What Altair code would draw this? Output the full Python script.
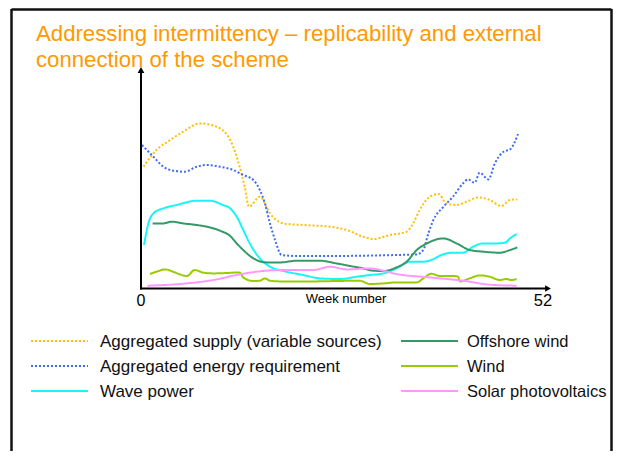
import altair as alt
import pandas as pd

FONT = "Liberation Sans"

title_lines = ["Addressing intermittency \u2013 replicability and external",
               "connection of the scheme"]
x_label = "Week number"
x_ticks = ["0", "52"]

series = ["Aggregated supply (variable sources)", "Aggregated energy requirement",
          "Wave power", "Offshore wind", "Wind", "Solar photovoltaics"]
colors = ["#FFC000", "#3F6CF2", "#19F5F5", "#339966", "#99CC00", "#FF99FF"]
dotted = [True, True, False, False, False, False]

supply_w = [0.2, 2.0, 3.9, 5.7, 8.0, 10.3, 12.2, 13.5, 14.2, 14.8, 16.3, 17.7, 19.5, 22.3, 26.0,
            28.3, 30.6, 32.0, 34.3, 36.6, 37.5, 38.4, 39.8, 41.0, 42.1, 43.5, 44.9, 46.5, 48.1,
            49.7, 50.9, 51.9]
supply_v = [122, 138.7, 148.7, 157, 165.3, 162, 148.7, 122, 102, 82, 92, 75.3, 65.3, 63.7, 62,
            58.7, 52, 49.7, 53.7, 57, 65.3, 78.7, 92, 94.7, 85.3, 83.7, 87, 91.3, 88.7,
            82.7, 88.7, 89.3]

demand_w = [0, 1.57, 2.95, 4.33, 5.94, 7.56, 8.94, 10.8, 12.6, 14.0, 15.4, 16.3, 17.0, 17.7, 18.4,
            19.3, 21.4, 26.0, 30.6, 35.2, 38.0, 38.9, 39.6, 40.3, 41.7, 43.0, 44.4, 45.1, 46.0,
            46.7, 47.9, 48.8, 50.0, 50.9, 52.0]
demand_v = [143.7, 132, 122, 118, 117, 122, 123.7, 122, 118.7, 113.7, 108.7, 98.7, 85.3, 65.3, 48.7,
            33.7, 32.7, 32.7, 33, 33.7, 34.3, 38.7, 55.3, 68.7, 82, 92, 105.3, 109.3, 106,
            116, 109.3, 125.3, 137, 139.3, 154.7]

wave_w = [0.28, 0.88, 1.57, 2.95, 4.79, 7.56, 9.4, 11.2, 12.2, 13.1, 14.0, 14.9, 16.3, 17.7, 20.0,
          22.3, 24.6, 27.4, 29.7, 31.5, 33.4, 35.2, 37.1, 38.9, 40.0, 41.4, 43.0, 44.4, 45.8,
          47.2, 49.0, 50.2, 50.9, 51.8]
wave_v = [43.7, 65.3, 75.3, 80.3, 83.7, 88, 88, 83.7, 80.3, 72, 58.7, 45.3, 30.3, 22, 17,
          13.7, 10.3, 9.7, 12, 13.7, 15.3, 20.3, 27, 27, 28.7, 33.7, 36, 36, 42,
          45.3, 45.3, 46, 50.3, 54.7]

offshore_w = [1.47, 2.95, 4.1, 5.71, 7.56, 9.4, 10.8, 12.2, 13.1, 14.0, 15.4, 17.2, 19.1, 21.4, 24.6,
              26.9, 28.8, 30.6, 32.0, 33.4, 35.2, 36.6, 38.0, 39.4, 41.7, 43.5, 45.3, 47.2, 49.5,
              50.9, 51.9]
offshore_v = [65.3, 65.3, 67, 65.3, 63.7, 61.3, 58, 52.7, 45.3, 38.7, 30.3, 26.3, 26.3, 28, 28,
              25.3, 22.7, 20.3, 18, 17.7, 21.3, 27, 38.7, 45.3, 50.3, 45.3, 38.7, 37, 36,
              38.7, 41.3]

wind_w = [1.1, 2.0, 3.2, 4.3, 5.25, 6.2, 7.3, 8.5, 9.9, 11.7, 13.5, 14.0, 15.4, 16.3, 17.0, 17.7,
          19.1, 23.7, 26.9, 30.1, 31.5, 33.4, 35.2, 38.0, 38.9, 40.0, 41.2, 43.0, 43.7, 44.0,
          45.3, 46.7, 48.1, 49.5, 50.4, 51.1, 51.8]
wind_v = [14.7, 17, 19.3, 17, 14.3, 12.7, 18.7, 16, 15.3, 15.7, 16.3, 11.3, 7.7, 8, 10.3, 8,
          7.3, 7.3, 7.7, 8, 4.7, 5.3, 6.3, 6.3, 10.3, 15, 12.7, 12.7, 12, 7.3,
          10.3, 13.3, 12, 8.7, 9.7, 8.7, 9.7]

solar_w = [0.74, 5.25, 9.86, 13.5, 15.85, 19.1, 23.7, 26.0, 28.3, 31.5, 33.4, 35.2, 39.8, 44.4,
           48.1, 51.8]
solar_v = [3, 4.7, 8.7, 14.3, 17, 18.7, 18.7, 22, 19.3, 20.3, 18, 14.7, 11.3, 8, 4, 3]

all_w = [supply_w, demand_w, wave_w, offshore_w, wind_w, solar_w]
all_v = [supply_v, demand_v, wave_v, offshore_v, wind_v, solar_v]

rows = []
for name, ws, vs in zip(series, all_w, all_v):
    for w, v in zip(ws, vs):
        rows.append({"series": name, "week": w, "value": v})
df = pd.DataFrame(rows)

W, H = 605, 443
# page coordinate -> view coordinate: subtract 8
X0, X52 = 134, 510
Y0 = 280.7

lines = alt.Chart(df).mark_line(strokeWidth=2, interpolate="monotone").encode(
    x=alt.X("week:Q", scale=alt.Scale(domain=[0, 52], range=[X0, X52]), axis=None),
    y=alt.Y("value:Q", scale=alt.Scale(domain=[0, 200], range=[Y0, Y0 - 200]), axis=None),
    color=alt.Color("series:N", scale=alt.Scale(domain=series, range=colors), legend=None),
    strokeDash=alt.StrokeDash("series:N", scale=alt.Scale(
        domain=series, range=[[2, 2] if d else [1, 0] for d in dotted]), legend=None),
    detail="series:N",
)

dummy = pd.DataFrame({"a": [0]})
base = alt.Chart(dummy)

layers = []

# slide frame
frame_color = "#111111"
layers.append(base.mark_rule(color=frame_color, strokeWidth=2.5).encode(
    x=alt.value(3.5), y=alt.value(1), y2=alt.value(H)))
layers.append(base.mark_rule(color=frame_color, strokeWidth=2.5).encode(
    x=alt.value(3.5), x2=alt.value(603.5), y=alt.value(1.5)))
layers.append(base.mark_rule(color=frame_color, strokeWidth=2.5).encode(
    x=alt.value(603.5), y=alt.value(1), y2=alt.value(H)))

# title
for i, t in enumerate(title_lines):
    layers.append(base.mark_text(text=t, font=FONT, fontSize=22.2, color="#FF9900",
                                 align="left", baseline="middle").encode(
        x=alt.value(28), y=alt.value(26 + 26 * i)))

# axes with arrows
layers.append(base.mark_rule(color="black", strokeWidth=2).encode(
    x=alt.value(133), y=alt.value(62), y2=alt.value(281.5)))
layers.append(base.mark_rule(color="black", strokeWidth=2).encode(
    x=alt.value(132), x2=alt.value(540), y=alt.value(280.5)))
layers.append(base.mark_point(shape="triangle-up", filled=True, size=45, color="black",
                              opacity=1).encode(x=alt.value(133), y=alt.value(62)))
layers.append(base.mark_point(shape="triangle-right", filled=True, size=45, color="black",
                              opacity=1).encode(x=alt.value(540), y=alt.value(280.5)))

# axis labels
layers.append(base.mark_text(text=x_ticks[0], font=FONT, fontSize=16, color="black",
                             baseline="middle").encode(x=alt.value(133), y=alt.value(293)))
layers.append(base.mark_text(text=x_ticks[1], font=FONT, fontSize=16.5, color="black",
                             baseline="middle").encode(x=alt.value(535), y=alt.value(293)))
layers.append(base.mark_text(text=x_label, font=FONT, fontSize=13, color="black",
                             baseline="middle").encode(x=alt.value(338), y=alt.value(291)))

# legend
for i, (name, col, d) in enumerate(zip(series, colors, dotted)):
    c, r = divmod(i, 3)
    lx1 = 23 + 370 * c
    lx2 = lx1 + 57
    ly = 333 + 25 * r
    rule = base.mark_rule(color=col, strokeWidth=2, strokeDash=[2, 2] if d else [1, 0]).encode(
        x=alt.value(lx1), x2=alt.value(lx2), y=alt.value(ly))
    layers.append(rule)
    layers.append(base.mark_text(text=name, font=FONT, fontSize=17 if c == 0 else 16.5,
                                 color="#111111", align="left", baseline="middle").encode(
        x=alt.value(92 if c == 0 else 459), y=alt.value(ly + 1)))

chart = alt.layer(lines, *layers).properties(
    width=W, height=H, padding=0, autosize=alt.AutoSizeParams(type="none"),
    background="white",
).configure_view(stroke=None)

chart.save("out.html", embed_options={"renderer": "svg", "actions": False})
